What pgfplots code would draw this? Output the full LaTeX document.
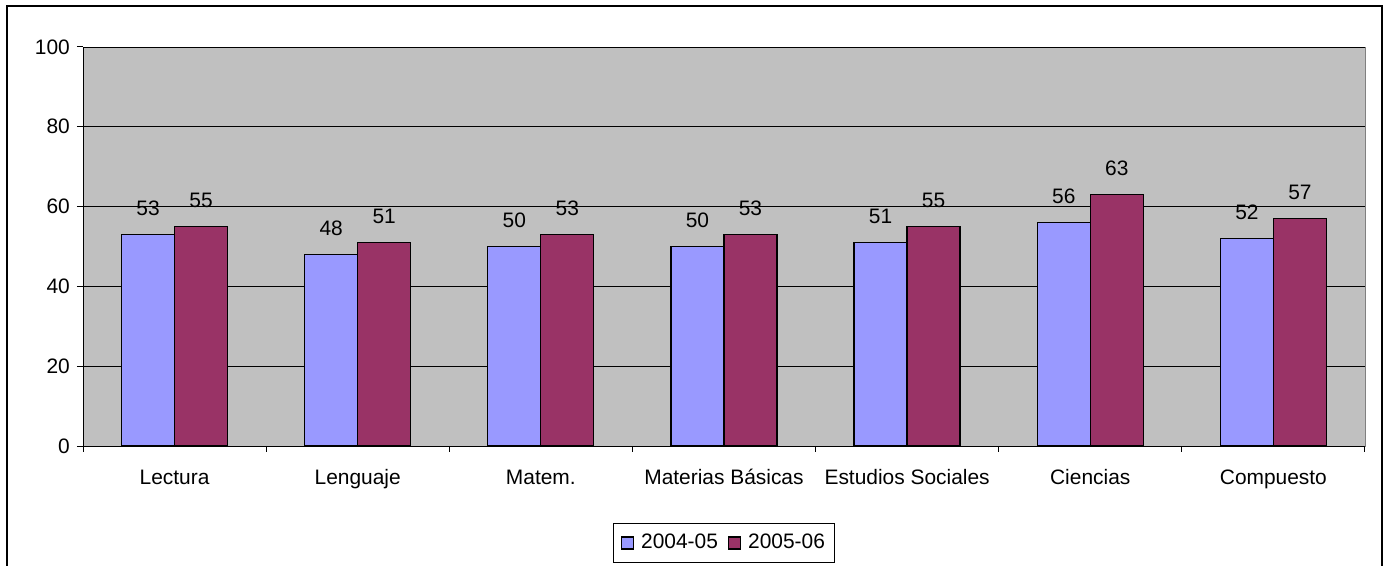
\documentclass[border=0pt]{standalone}
\usepackage{fontspec}
\setmainfont{Liberation Sans}
\usepackage{pgfplots}
\pgfplotsset{compat=1.18}
\definecolor{serieA}{HTML}{9999FF}
\definecolor{serieB}{HTML}{993366}
\definecolor{fondo}{HTML}{C0C0C0}
\begin{document}
\fontsize{21}{25}\selectfont
\begin{tikzpicture}
\useasboundingbox (0,0) rectangle (1388bp,566bp);
% marco exterior del grafico
\draw[line width=1.2bp] (7bp,-2bp) -- (7bp,560bp) -- (1382bp,560bp) -- (1382bp,-2bp);
\begin{axis}[
  at={(83bp,120bp)}, anchor=south west,
  scale only axis, width=1282bp, height=399bp,
  /pgf/number format/assume math mode=true,
  xmin=-0.5, xmax=6.5, ymin=0, ymax=100,
  axis background/.style={fill=fondo, draw=gray},
  axis x line*=bottom, axis y line*=left,
  axis line style={line width=1bp, -},
  ytick={0,20,...,100},
  ymajorgrids, grid style={black, line width=0.8bp},
  tick align=outside,
  major tick length=6bp, minor tick length=6bp,
  xtick={0,...,6},
  xticklabels={Lectura,Lenguaje,Matem.,Materias Básicas,Estudios Sociales,Ciencias,Compuesto},
  minor xtick={-0.5,0.5,...,6.5},
  x tick style={draw=none},
  minor x tick style={draw=black, line width=1bp},
  y tick style={black, line width=1bp},
  xticklabel style={yshift=-10bp, text height=15bp, text depth=4bp},
  ybar=0pt, bar width=53bp,
  nodes near coords,
  every node near coord/.append style={yshift=11bp},
  legend columns=2,
  legend style={at={(0.5,-0.243)}, anchor=center, draw=black, line width=1bp,
    inner xsep=8bp, inner ysep=9bp,
    /tikz/every odd column/.append style={column sep=5bp},
    /tikz/every even column/.append style={column sep=8bp}},
  legend image code/.code={\draw[#1, line width=1.2bp] (0bp,-6bp) rectangle (12bp,6bp);},
]
\addplot[fill=serieA, draw=black, line width=1.3bp] coordinates {
  (0,53) (1,48) (2,50) (3,50) (4,51) (5,56) (6,52)};
\addplot[fill=serieB, draw=black, line width=1.3bp] coordinates {
  (0,55) (1,51) (2,53) (3,53) (4,55) (5,63) (6,57)};
\legend{2004-05,2005-06}
\end{axis}
\end{tikzpicture}
\end{document}
